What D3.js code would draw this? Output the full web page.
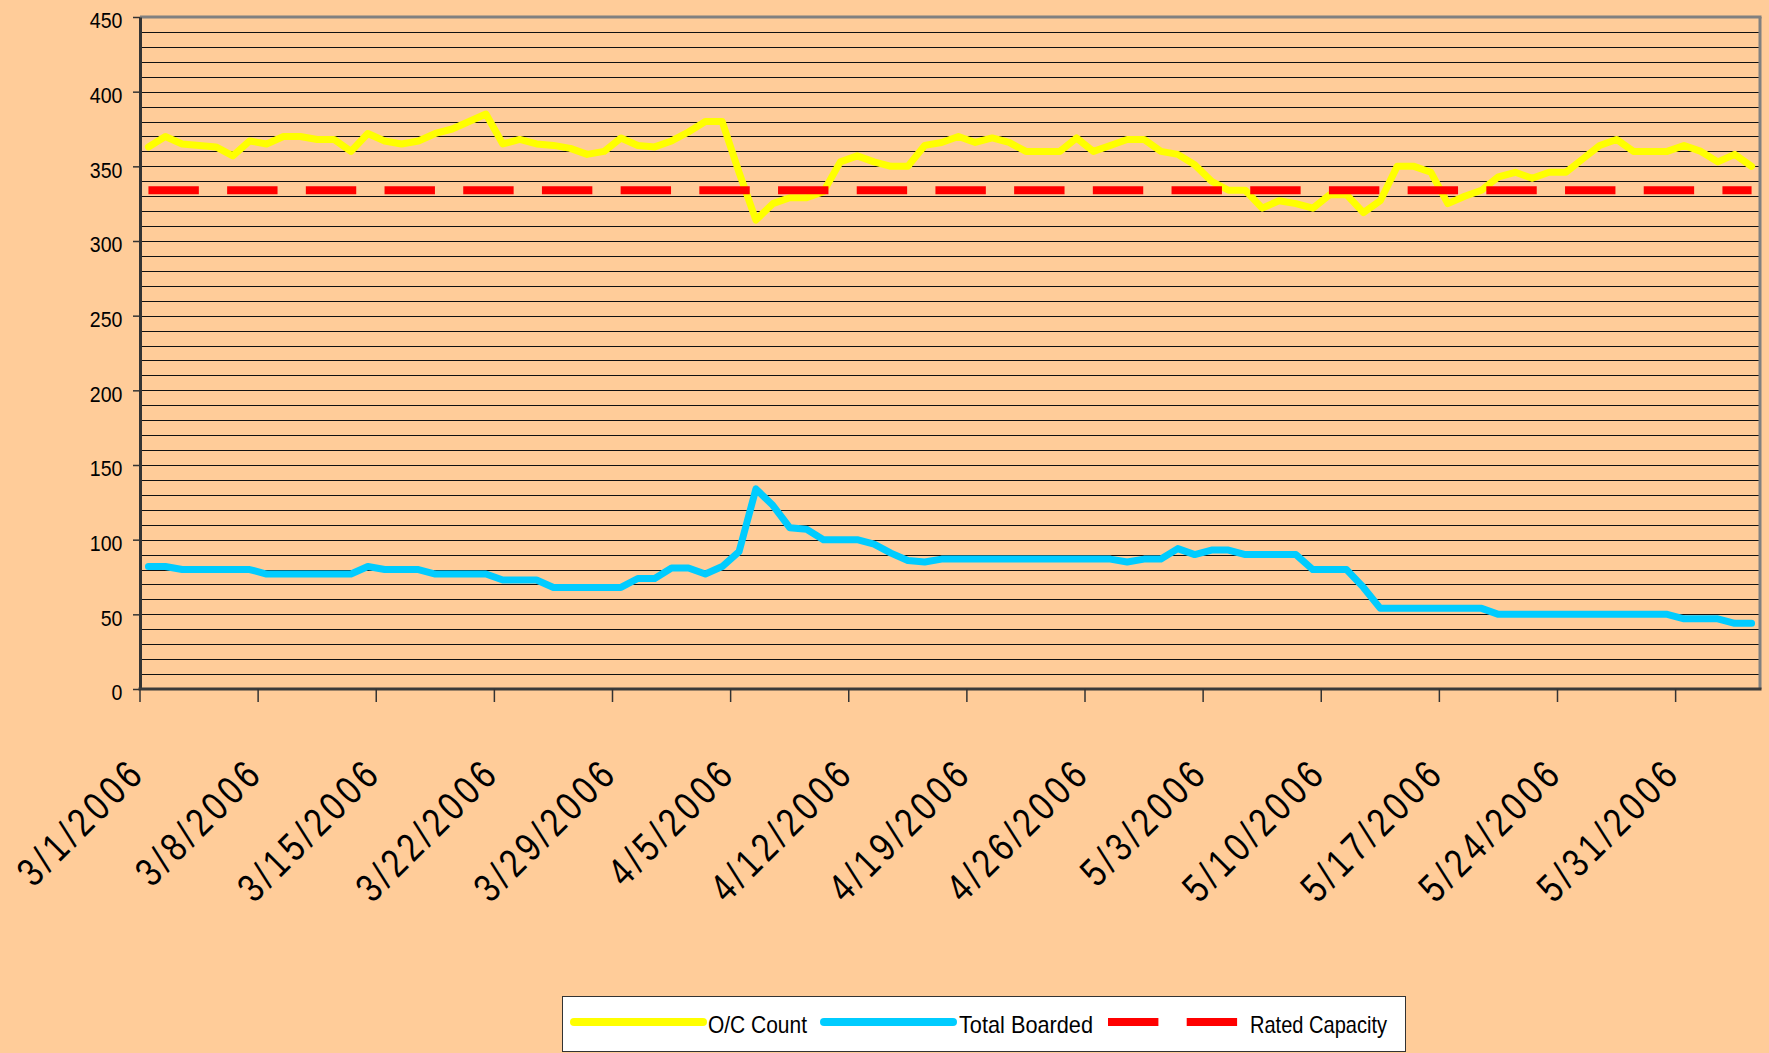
<!DOCTYPE html>
<html>
<head>
<meta charset="utf-8">
<script src="https://cdn.jsdelivr.net/npm/d3@7"></script>
<style>
  html, body { margin: 0; padding: 0; background: #FFCC99; }
  svg { display: block; }
  text { font-family: "Liberation Sans", Arial, sans-serif; fill: #000; }
</style>
</head>
<body>
<svg id="chart" width="1769" height="1053"></svg>
<script>
// ---------- data ----------
const startDate = new Date(2006, 2, 1);
const dayCount = 96;
const categories = d3.timeDay.range(startDate, d3.timeDay.offset(startDate, dayCount));

const ocCount = [
  363, 370, 365, 364, 363, 357, 367, 365, 370, 370,
  368, 368, 360, 372, 367, 365, 367, 372, 375, 380,
  385, 365, 368, 365, 364, 362, 358, 360, 369, 364,
  363, 367, 373, 380, 380, 346, 314, 325, 329, 329,
  333, 353, 357, 353, 350, 350, 364, 366, 370, 366,
  369, 366, 360, 360, 360, 369, 360, 364, 368, 368,
  360, 358, 351, 340, 334, 334, 322, 327, 325, 322,
  331, 331, 319, 327, 350, 350, 346, 325, 330, 334,
  343, 346, 342, 346, 346, 355, 364, 368, 360, 360,
  360, 364, 360, 353, 358, 350
];

const totalBoarded = [
  82, 82, 80, 80, 80, 80, 80, 77, 77, 77,
  77, 77, 77, 82, 80, 80, 80, 77, 77, 77,
  77, 73, 73, 73, 68, 68, 68, 68, 68, 74,
  74, 81, 81, 77, 82, 92, 134, 123, 108, 107,
  100, 100, 100, 97, 91, 86, 85, 87, 87, 87,
  87, 87, 87, 87, 87, 87, 87, 87, 85, 87,
  87, 94, 90, 93, 93, 90, 90, 90, 90, 80,
  80, 80, 68, 54, 54, 54, 54, 54, 54, 54,
  50, 50, 50, 50, 50, 50, 50, 50, 50, 50,
  50, 47, 47, 47, 44, 44
];

const ratedCapacityValue = 334;
const ratedCapacity = categories.map(() => ratedCapacityValue);

const yTickValues = [0, 50, 100, 150, 200, 250, 300, 350, 400, 450];
const xTickLabels = ["3/1/2006", "3/8/2006", "3/15/2006", "3/22/2006", "3/29/2006",
  "4/5/2006", "4/12/2006", "4/19/2006", "4/26/2006", "5/3/2006", "5/10/2006",
  "5/17/2006", "5/24/2006", "5/31/2006"];

const seriesNames = ["O/C Count", "Total Boarded", "Rated Capacity"];
const seriesColors = ["#FFFF00", "#00CCFF", "#FF0000"];

// ---------- layout ----------
const W = 1769, H = 1053;
const plot = { left: 140, top: 17, right: 1760, bottom: 689 };

const svg = d3.select("#chart");
svg.append("rect").attr("width", W).attr("height", H).attr("fill", "#FFCC99");

const xBand = d3.scaleBand().domain(categories).range([plot.left, plot.right]).paddingInner(0).paddingOuter(0);
const xc = d => xBand(d) + xBand.bandwidth() / 2;
const y = d3.scaleLinear().domain([0, 450]).range([plot.bottom, plot.top]);

// gridlines every 10
const gridVals = d3.range(10, 450, 10);
svg.append("g").selectAll("line").data(gridVals).join("line")
  .attr("x1", plot.left).attr("x2", plot.right)
  .attr("y1", d => Math.round(y(d)) + 0.5).attr("y2", d => Math.round(y(d)) + 0.5)
  .attr("stroke", "#111").attr("stroke-width", 1.2);

// plot border: top and right gray
svg.append("line").attr("x1", plot.left).attr("x2", plot.right + 1.5)
  .attr("y1", plot.top).attr("y2", plot.top)
  .attr("stroke", "#808080").attr("stroke-width", 3);
svg.append("line").attr("x1", plot.right).attr("x2", plot.right)
  .attr("y1", plot.top).attr("y2", plot.bottom)
  .attr("stroke", "#808080").attr("stroke-width", 3);

// series lines
const lineGen = d3.line().x((d, i) => xc(categories[i])).y(d => y(d));

svg.append("path").datum(ocCount).attr("d", lineGen)
  .attr("fill", "none").attr("stroke", seriesColors[0]).attr("stroke-width", 7)
  .attr("stroke-linejoin", "round").attr("stroke-linecap", "round");

svg.append("path").datum(totalBoarded).attr("d", lineGen)
  .attr("fill", "none").attr("stroke", seriesColors[1]).attr("stroke-width", 7)
  .attr("stroke-linejoin", "round").attr("stroke-linecap", "round");

svg.append("path").datum(ratedCapacity).attr("d", lineGen)
  .attr("fill", "none").attr("stroke", seriesColors[2]).attr("stroke-width", 8)
  .attr("stroke-dasharray", "50.4,28.3").attr("stroke-linecap", "butt");

// y axis
const yAxis = d3.axisLeft(y).tickValues(yTickValues).tickSize(7).tickSizeOuter(0).tickPadding(0).tickFormat(d3.format("d"));
const gy = svg.append("g").attr("transform", `translate(${plot.left},0)`).call(yAxis);
gy.select(".domain").attr("stroke", "#333").attr("stroke-width", 3);
gy.selectAll(".tick line").attr("stroke", "#333").attr("stroke-width", 1.5);
gy.selectAll(".tick text").remove();
gy.selectAll(".tick").append("text")
  .attr("text-anchor", "end")
  .attr("transform", "translate(-17.5,10.8) scale(0.89,1)")
  .attr("font-size", 22)
  .text(d => d);

// x axis line
svg.append("line").attr("x1", plot.left - 1.5).attr("x2", plot.right + 1.5)
  .attr("y1", plot.bottom).attr("y2", plot.bottom)
  .attr("stroke", "#3a3a3a").attr("stroke-width", 3);

// x ticks at category boundaries every 7 days
const tickCats = categories.filter((d, i) => i % 7 === 0);
const gx = svg.append("g");
gx.selectAll("line").data(tickCats).join("line")
  .attr("x1", d => xBand(d)).attr("x2", d => xBand(d))
  .attr("y1", plot.bottom).attr("y2", plot.bottom + 13)
  .attr("stroke", "#333").attr("stroke-width", 1.5);
gx.selectAll("text").data(tickCats).join("text")
  .attr("text-anchor", "end")
  .attr("font-size", 40)
  .attr("letter-spacing", 5)
  .attr("transform", d => `translate(${xBand(d) + 7},775) rotate(-45) scale(0.82,1)`)
  .text((d, i) => xTickLabels[i]);

// legend
const lg = svg.append("g");
lg.append("rect").attr("x", 562.5).attr("y", 996.5).attr("width", 843).attr("height", 55)
  .attr("fill", "#FFFFFF").attr("stroke", "#333").attr("stroke-width", 1);
const ly = 1022;
const legendItems = [
  { name: seriesNames[0], color: seriesColors[0], x1: 574, x2: 703, tx: 708, tw: 99, dash: null, w: 8, cap: "round" },
  { name: seriesNames[1], color: seriesColors[1], x1: 824, x2: 953, tx: 959, tw: 134, dash: null, w: 8, cap: "round" },
  { name: seriesNames[2], color: seriesColors[2], x1: 1108, x2: 1238, tx: 1250, tw: 137, dash: "50.4,28.3", w: 8, cap: "butt" }
];
legendItems.forEach(it => {
  lg.append("line").attr("x1", it.x1).attr("x2", it.x2).attr("y1", ly).attr("y2", ly)
    .attr("stroke", it.color).attr("stroke-width", it.w).attr("stroke-linecap", it.cap)
    .attr("stroke-dasharray", it.dash);
  lg.append("text").attr("x", it.tx).attr("y", 1033)
    .attr("font-size", 24)
    .attr("textLength", it.tw).attr("lengthAdjust", "spacingAndGlyphs")
    .text(it.name);
});
</script>
</body>
</html>
